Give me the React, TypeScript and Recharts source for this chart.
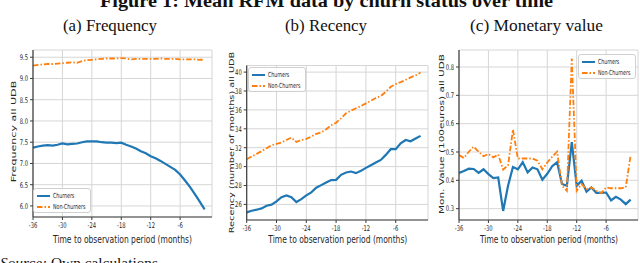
import { LineChart, Line, XAxis, YAxis, CartesianGrid, Legend } from 'recharts';

// months before the observation period
const months = [
  -36, -35, -34, -33, -32, -31, -30, -29, -28, -27, -26, -25, -24, -23, -22, -21, -20, -19,
  -18, -17, -16, -15, -14, -13, -12, -11, -10, -9, -8, -7, -6, -5, -4, -3, -2, -1,
];

const freqChurners = [
  7.37, 7.4, 7.42, 7.43, 7.42, 7.44, 7.47, 7.45, 7.46, 7.47, 7.5, 7.52, 7.52, 7.52, 7.5, 7.49, 7.49, 7.48,
  7.49, 7.44, 7.4, 7.35, 7.29, 7.24, 7.17, 7.12, 7.06, 6.99, 6.92, 6.85, 6.74, 6.6, 6.45, 6.28, 6.1, 5.92,
];
const freqNonChurners = [
  9.3, 9.32, 9.33, 9.34, 9.34, 9.35, 9.36, 9.37, 9.38, 9.37, 9.41, 9.43, 9.44, 9.45, 9.46, 9.47, 9.47, 9.47,
  9.48, 9.47, 9.45, 9.46, 9.46, 9.46, 9.46, 9.46, 9.47, 9.46, 9.46, 9.46, 9.45, 9.45, 9.45, 9.45, 9.44, 9.44,
];

const recChurners = [
  25.16, 25.33, 25.44, 25.58, 25.86, 25.97, 26.32, 26.77, 26.95, 26.77, 26.25, 26.56, 26.95, 27.27, 27.76, 28.04, 28.32, 28.57,
  28.6, 29.13, 29.38, 29.48, 29.31, 29.55, 29.87, 30.15, 30.43, 30.71, 31.24, 31.84, 31.84, 32.47, 32.82, 32.68, 32.97, 33.25,
];
const recNonChurners = [
  30.78, 31.07, 31.35, 31.63, 31.95, 32.26, 32.4, 32.54, 32.82, 33.07, 32.61, 32.82, 32.93, 33.18, 33.46, 33.63, 33.95, 34.37,
  34.65, 35.11, 35.64, 35.92, 36.17, 36.41, 36.69, 36.98, 37.26, 37.47, 37.92, 38.45, 38.73, 38.94, 39.19, 39.44, 39.65, 39.95,
];

const monChurners = [
  0.426, 0.433, 0.441, 0.44, 0.426, 0.439, 0.422, 0.408, 0.41, 0.292, 0.381, 0.447, 0.439, 0.464, 0.428, 0.445, 0.439, 0.402,
  0.423, 0.45, 0.464, 0.387, 0.381, 0.535, 0.381, 0.399, 0.36, 0.375, 0.356, 0.356, 0.357, 0.329, 0.342, 0.332, 0.316, 0.332,
];
const monNonChurners = [
  0.489, 0.479, 0.501, 0.519, 0.501, 0.485, 0.493, 0.481, 0.491, 0.438, 0.453, 0.579, 0.477, 0.477, 0.477, 0.477, 0.469, 0.439,
  0.463, 0.483, 0.501, 0.381, 0.363, 0.83, 0.363, 0.387, 0.369, 0.375, 0.363, 0.355, 0.375, 0.372, 0.372, 0.372, 0.375, 0.489,
];

const xTicks = [-36, -30, -24, -18, -12, -6];
const freqTicks = [6.0, 6.5, 7.0, 7.5, 8.0, 8.5, 9.0, 9.5];
const recTicks = [26, 28, 30, 32, 34, 36, 38, 40];
const monTicks = [0.3, 0.4, 0.5, 0.6, 0.7, 0.8];

const SQ = 0.67;
const FONT = '"DejaVu Sans", sans-serif';
const SERIF = '"Liberation Serif", serif';
const INK = '#262626';
const BLUE = '#1f77b4';
const ORANGE = '#ff7f0e';
const GRID = '#d6d6d6';
const SPINE = '#3c3c3c';
const DASH = '5.5 2 1.5 2';

const W = 640;
const H = 263;

const toRows = (a: number[], b: number[]) =>
  months.map((t, i) => ({ t, churners: a[i], nonChurners: b[i] }));

const XTick = ({ x, y, payload }: any) => (
  <text
    transform={`translate(${x},${y}) scale(${SQ},1)`}
    textAnchor='middle'
    dy='0.71em'
    fontSize={7.8}
    fontFamily={FONT}
    fill={INK}
  >
    {payload.value}
  </text>
);

const yTick = (digits: number) => ({ x, y, payload }: any) => (
  <text
    transform={`translate(${x},${y}) scale(${SQ},1)`}
    textAnchor='end'
    dy='0.36em'
    fontSize={7.8}
    fontFamily={FONT}
    fill={INK}
  >
    {Number(payload.value).toFixed(digits)}
  </text>
);

const LegendBox = ({ payload }: any) => (
  <div
    style={{
      border: '1px solid #d0d0d0',
      borderRadius: 3,
      background: 'rgba(255,255,255,0.85)',
      padding: '1px 3px',
      boxSizing: 'border-box',
      width: 58,
      height: 25,
    }}
  >
    {(payload || []).map((e: any, i: number) => (
      <div key={i} style={{ display: 'flex', alignItems: 'center', height: 11 }}>
        <svg width={13} height={4} style={{ flex: 'none' }}>
          <line
            x1={0}
            y1={2}
            x2={13}
            y2={2}
            stroke={e.color}
            strokeWidth={2}
            strokeDasharray={e.payload && e.payload.strokeDasharray}
          />
        </svg>
        <span
          style={{
            fontSize: 7,
            fontFamily: FONT,
            color: INK,
            marginLeft: 3,
            whiteSpace: 'nowrap',
            display: 'inline-block',
            transform: `scaleX(${SQ})`,
            transformOrigin: 'left center',
          }}
        >
          {e.value}
        </span>
      </div>
    ))}
  </div>
);

const Panel = ({ data, box, yDomain, yTicks, digits, legendAt }: any) => {
  const [L, T, R, B] = box;
  const yW = 30;
  const xH = 20;
  return (
    <div style={{ position: 'absolute', left: 0, top: 0 }}>
      <LineChart
        width={W}
        height={H}
        data={data}
        margin={{ top: T, right: W - R, bottom: H - B - xH, left: L - yW }}
      >
        <CartesianGrid stroke={GRID} strokeWidth={1} />
        <XAxis
          dataKey='t'
          type='number'
          domain={[-36, 0.5]}
          ticks={xTicks}
          interval={0}
          allowDataOverflow
          height={xH}
          tickSize={3}
          tickMargin={2.5}
          axisLine={{ stroke: SPINE, strokeWidth: 1.2 }}
          tickLine={{ stroke: SPINE }}
          tick={<XTick />}
        />
        <YAxis
          type='number'
          domain={yDomain}
          ticks={yTicks}
          interval={0}
          allowDataOverflow
          width={yW}
          tickSize={3}
          tickMargin={2}
          axisLine={{ stroke: SPINE, strokeWidth: 1.2 }}
          tickLine={{ stroke: SPINE }}
          tick={yTick(digits)}
        />
        <Legend
          layout='horizontal'
          align='center'
          verticalAlign='middle'
          wrapperStyle={{ left: legendAt[0], top: legendAt[1], width: 58 }}
          content={<LegendBox />}
        />
        <Line
          type='linear'
          dataKey='churners'
          name='Churners'
          stroke={BLUE}
          strokeWidth={2.2}
          dot={false}
          activeDot={false}
          isAnimationActive={false}
        />
        <Line
          type='linear'
          dataKey='nonChurners'
          name='Non-Churners'
          stroke={ORANGE}
          strokeWidth={1.8}
          strokeDasharray={DASH}
          dot={false}
          activeDot={false}
          isAnimationActive={false}
        />
      </LineChart>
    </div>
  );
};

const YLabel = ({ x, y, size, children }: any) => (
  <text
    transform={`translate(${x},${y}) scale(${SQ},1) rotate(-90)`}
    textAnchor='middle'
    fontSize={size}
    fontFamily={FONT}
    fill={INK}
  >
    {children}
  </text>
);

const XLabel = ({ x, len }: any) => (
  <text
    x={x}
    y={243}
    textAnchor='middle'
    fontSize={11.2}
    fontFamily={FONT}
    fill={INK}
    textLength={len}
    lengthAdjust='spacingAndGlyphs'
  >
    Time to observation period (months)
  </text>
);

export default function App() {
  return (
    <div style={{ position: 'absolute', left: 0, top: 0, width: W, height: H, background: '#fff', overflow: 'hidden' }}>
      <svg width={W} height={H} style={{ position: 'absolute', left: 0, top: 0 }}>
        <text
          x={326.5}
          y={6.5}
          textAnchor='middle'
          fontSize={19}
          fontWeight='bold'
          fontFamily={SERIF}
          fill='#111'
          textLength={453}
          lengthAdjust='spacingAndGlyphs'
        >
          Figure 1: Mean RFM data by churn status over time
        </text>
        <text x={110} y={30.7} textAnchor='middle' fontSize={16} fontFamily={SERIF} fill='#111' textLength={94} lengthAdjust='spacingAndGlyphs'>
          (a) Frequency
        </text>
        <text x={326} y={30.7} textAnchor='middle' fontSize={16} fontFamily={SERIF} fill='#111' textLength={82} lengthAdjust='spacingAndGlyphs'>
          (b) Recency
        </text>
        <text x={536.5} y={30.7} textAnchor='middle' fontSize={16} fontFamily={SERIF} fill='#111' textLength={133} lengthAdjust='spacingAndGlyphs'>
          (c) Monetary value
        </text>
        <text x={0} y={267.5} fontSize={15.5} fontFamily={SERIF} fill='#111' textLength={158} lengthAdjust='spacingAndGlyphs'>
          <tspan fontStyle='italic'>Source:</tspan> Own calculations
        </text>
        <YLabel x={16} y={131.5} size={11.1}>Frequency all UDB</YLabel>
        <YLabel x={233.5} y={142.5} size={9.8}>Recency (number of months) all UDB</YLabel>
        <YLabel x={443.5} y={134} size={10.5}>Mon. Value (100euros) all UDB</YLabel>
        <XLabel x={122.5} len={139} />
        <XLabel x={337.8} len={139} />
        <XLabel x={549} len={138} />
      </svg>
      <Panel
        data={toRows(freqChurners, freqNonChurners)}
        box={[33, 50, 212, 217]}
        yDomain={[5.74, 9.67]}
        yTicks={freqTicks}
        digits={1}
        legendAt={[33, 188]}
      />
      <Panel
        data={toRows(recChurners, recNonChurners)}
        box={[246.7, 65.5, 428, 220]}
        yDomain={[24.35, 40.7]}
        yTicks={recTicks}
        digits={0}
        legendAt={[248, 67]}
      />
      <Panel
        data={toRows(monChurners, monNonChurners)}
        box={[459, 50, 638, 220]}
        yDomain={[0.26, 0.86]}
        yTicks={monTicks}
        digits={1}
        legendAt={[578, 54]}
      />
    </div>
  );
}
